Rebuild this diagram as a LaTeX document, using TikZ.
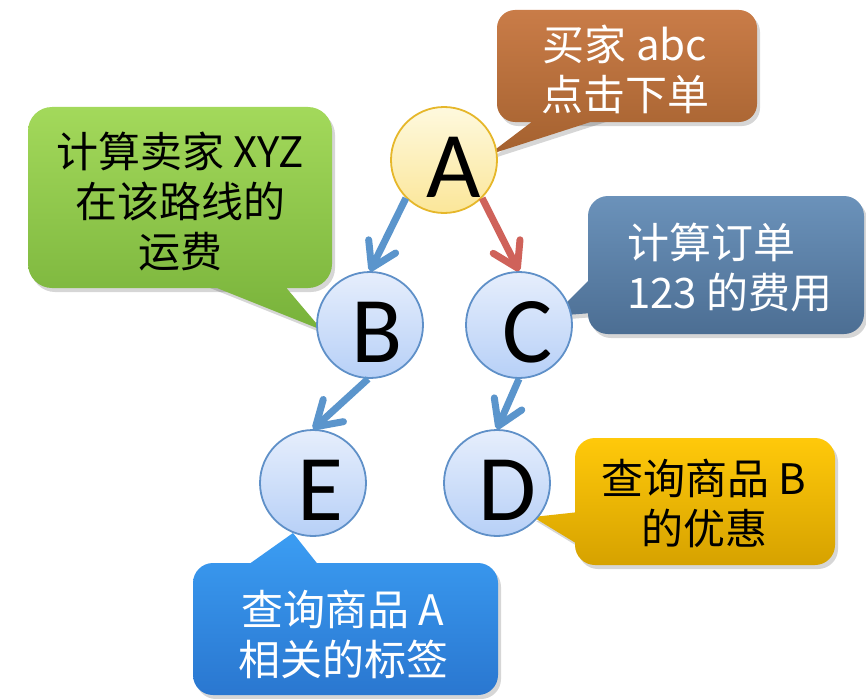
\documentclass[tikz,border=0pt]{standalone}
\usepackage{fontspec}
\newfontfamily\cjk{Noto Sans CJK SC}
\newfontfamily\letterfont{Carlito}
\usetikzlibrary{arrows.meta}
\definecolor{brownT}{HTML}{C97C48}
\definecolor{brownB}{HTML}{A4612F}
\definecolor{greenT}{HTML}{A3D95B}
\definecolor{greenB}{HTML}{78B23A}
\definecolor{slateT}{HTML}{6B92BA}
\definecolor{slateB}{HTML}{4C6E93}
\definecolor{yellowT}{HTML}{FFC90A}
\definecolor{yellowB}{HTML}{D6A200}
\definecolor{blueT}{HTML}{3B9DF3}
\definecolor{blueB}{HTML}{2A77D0}
\definecolor{circT}{HTML}{E6EEFC}
\definecolor{circB}{HTML}{B7D0F7}
\definecolor{circD}{HTML}{5F90C8}
\definecolor{aT}{HTML}{FEF9DE}
\definecolor{aB}{HTML}{FBE699}
\definecolor{aD}{HTML}{E6B72A}
\definecolor{arrBlue}{HTML}{5B95CC}
\definecolor{arrRed}{HTML}{CF625A}
\begin{document}
\begin{tikzpicture}[x=1pt,y=-1pt,
  bubble/.style={circle,minimum size=106pt,inner sep=0pt,line width=1.8pt,draw=circD,top color=circT,bottom color=circB},
  abubble/.style={bubble,draw=aD,top color=aT,bottom color=aB},
  letter/.style={inner sep=0pt,font=\letterfont\fontsize{94}{94}\selectfont},
  ctext/.style={inner sep=0pt,align=center,font=\cjk\fontsize{42}{50}\selectfont},
  conn/.style={line width=7pt,-{Straight Barb[length=24pt,width=30pt,round]}},
  shadowfill/.style={fill=black,opacity=0.16}
]
\useasboundingbox (0,0) rectangle (866,698);
\fill[white] (0,0) rectangle (866,698);

% ---------- callouts ----------
% brown
\fill[shadowfill,shift={(3pt,-4pt)},rounded corners=18pt] (627,10) -- (757,10) -- (757,122) -- (497,122) -- (497,10) -- cycle;
\fill[shadowfill,shift={(3pt,-4pt)}] (537,118) -- (603,118) -- (488,155) -- cycle;
\shade[top color=brownT,bottom color=brownB] [rounded corners=18pt] (627,10) -- (757,10) -- (757,122) -- (497,122) -- (497,10) -- cycle [sharp corners] (537,118) -- (603,118) -- (488,155) -- cycle;
% green
\fill[shadowfill,shift={(3pt,-4pt)},rounded corners=24pt] (180,107) -- (332,107) -- (332,288) -- (28,288) -- (28,107) -- cycle;
\fill[shadowfill,shift={(3pt,-4pt)}] (207,284) -- (283,284) -- (322,330) -- cycle;
\shade[top color=greenT,bottom color=greenB] [rounded corners=24pt] (180,107) -- (332,107) -- (332,288) -- (28,288) -- (28,107) -- cycle [sharp corners] (207,284) -- (283,284) -- (322,330) -- cycle;
% slate
\fill[shadowfill,shift={(3pt,-4pt)},rounded corners=20pt] (726,196) -- (864,196) -- (864,334) -- (588,334) -- (588,196) -- cycle;
\fill[shadowfill,shift={(3pt,-4pt)}] (592,277) -- (592,313) -- (553,316) -- cycle;
\shade[top color=slateT,bottom color=slateB] [rounded corners=20pt] (726,196) -- (864,196) -- (864,334) -- (588,334) -- (588,196) -- cycle [sharp corners] (592,277) -- (592,313) -- (553,316) -- cycle;
% yellow
\fill[shadowfill,shift={(3pt,-4pt)},rounded corners=20pt] (705,438) -- (835,438) -- (835,565) -- (575,565) -- (575,438) -- cycle;
\fill[shadowfill,shift={(3pt,-4pt)}] (579,512) -- (579,545) -- (533,517) -- cycle;
\shade[top color=yellowT,bottom color=yellowB] [rounded corners=20pt] (705,438) -- (835,438) -- (835,565) -- (575,565) -- (575,438) -- cycle [sharp corners] (579,512) -- (579,545) -- (533,517) -- cycle;
% blue
\fill[shadowfill,shift={(3pt,-4pt)},rounded corners=20pt] (345,563) -- (498,563) -- (498,695) -- (193,695) -- (193,563) -- cycle;
\shade[top color=blueT,bottom color=blueB] [rounded corners=20pt] (345,563) -- (498,563) -- (498,695) -- (193,695) -- (193,563) -- cycle [sharp corners] (320,567) -- (245,567) -- (293,533) -- cycle;

% ---------- callout texts ----------
\node[ctext,text=white] (tA) at (625,69) {买家 abc\\点击下单};
\node[ctext,text=black] (tB) at (180,201) {计算卖家 XYZ\\在该路线的\\运费};
\node[ctext,text=white,align=left,anchor=west] (tC) at (627,268) {计算订单\\123 的费用};
\node[ctext,text=black] (tD) at (704,503) {查询商品 B\\的优惠};
\node[ctext,text=white] (tE) at (343,634) {查询商品 A\\相关的标签};

% ---------- circles ----------
\node[abubble] (A) at (444,160) {};
\node[bubble] (B) at (370,325) {};
\node[bubble] (C) at (519,325) {};
\node[bubble] (E) at (313,483) {};
\node[bubble] (D) at (497,483) {};

\node[letter] (lA) at (454,167) {A};
\node[letter] (lB) at (377,332) {B};
\node[letter] (lC) at (528,332) {C};
\node[letter] (lE) at (320,490) {E};
\node[letter] (lD) at (507,490) {D};

% ---------- connectors ----------
\draw[conn,arrBlue] (A.225) -- (B.north);
\draw[conn,arrRed] (A.-45) -- (C.north);
\draw[conn,arrBlue] (B.-92) -- (E.north);
\draw[conn,arrBlue] (C.south) -- (D.north);
\end{tikzpicture}
\end{document}
